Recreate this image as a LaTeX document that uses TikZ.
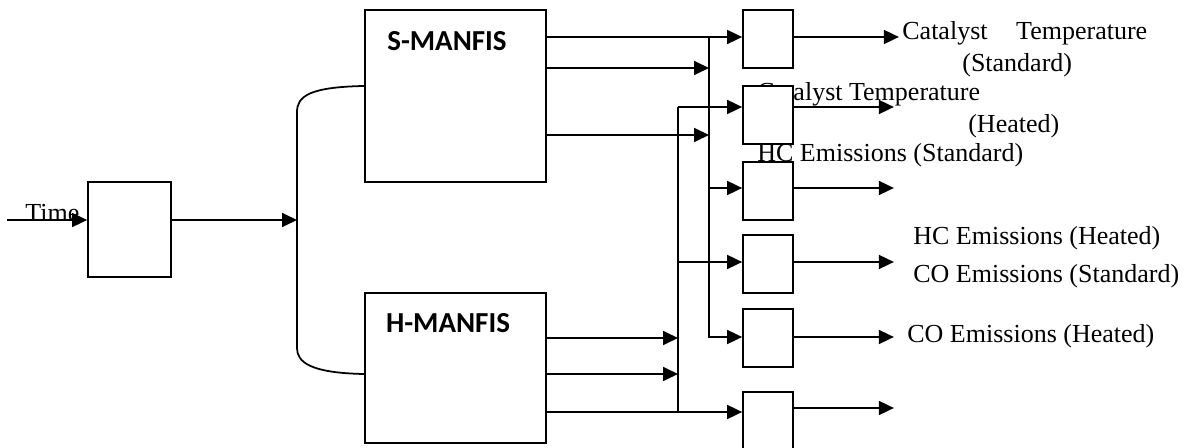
\documentclass[tikz,border=0pt]{standalone}
\usepackage{fontspec}
\setmainfont{Liberation Serif}
\newfontfamily\calfont{Carlito}
\usetikzlibrary{arrows.meta}
\tikzset{
blockbox/.style={draw, line width=1pt, fill=white, inner sep=0pt},
manfisbox/.style={draw, line width=1pt, inner sep=0pt, minimum width=3.62cm},
sigarrow/.style={-{Triangle[length=3mm,width=2.8mm]}, line width=1pt},
sigline/.style={line width=1pt},
outlabel/.style={font=\fontsize{14.8}{18.5}\selectfont, inner sep=0pt, anchor=base west, align=left},
manlabel/.style={font=\calfont\bfseries\fontsize{16.5}{19}\selectfont, inner sep=0pt}
}
\begin{document}
\begin{tikzpicture}[x=0.02cm,y=-0.02cm]
\useasboundingbox (0,0) rectangle (1189,448);

% output labels (base = last line)
\node[outlabel] (lcts) at (902,72) {Catalyst\hspace{1.1em}Temperature\\\hspace*{1.2cm}(Standard)};
\node[outlabel] (lcth) at (757,133) {Catalyst Temperature\\\hspace*{4.22cm}(Heated)};
\node[outlabel] (lhcs) at (757,162) {HC Emissions (Standard)};
\node[outlabel] (lhch) at (913,245) {HC Emissions (Heated)};
\node[outlabel] (lcos) at (913,283) {CO Emissions (Standard)};
\node[outlabel] (lcoh) at (907,343) {CO Emissions (Heated)};
\node[outlabel] (ltime) at (25,222) {Time};

% blocks
\node[blockbox, minimum width=1.66cm, minimum height=1.9cm] (pre) at (129.5,229.5) {};
\node[manfisbox, minimum height=3.44cm] (sman) at (455.5,96) {};
\node[manfisbox, minimum height=3cm] (hman) at (455.5,368) {};
\node[manlabel] (slabel) at (447,41) {S-MANFIS};
\node[manlabel] (hlabel) at (448,323) {H-MANFIS};
\foreach \nm/\yc in {ca/39, cb/115, cc/191, cd/264, ce/338, cf/421}
  \node[blockbox, minimum width=1cm, minimum height=1.16cm] (\nm) at (768,\yc) {};

\coordinate (tin) at (7,220);
\coordinate (join) at (297,220);
\coordinate (busa) at (709,37);
\coordinate (busb) at (678,107);

% input side
\draw[sigarrow] (tin) -- (tin -| pre.west);
\draw[sigarrow] (pre.east |- tin) -- (join);
\draw[sigline] (sman.west |- 0,86) .. controls (310,87) and (297,96) .. (297,112)
  -- (297,348) .. controls (297,362) and (310,373) .. (hman.west |- 0,374);

% S-MANFIS outputs
\draw[sigline] (sman.east |- busa) -- (busa);
\draw[sigarrow] (busa) -- (ca.west |- busa);
\draw[sigarrow] (sman.east |- 0,68) -- (busa |- 0,68);
\draw[sigarrow] (sman.east |- 0,135) -- (busa |- 0,135);
\draw[sigarrow] (busa) -- (busa |- 0,337) -- (ce.west |- 0,337);
\draw[sigarrow] (busa |- 0,188) -- (cc.west |- 0,188);

% H-MANFIS outputs
\draw[sigarrow] (hman.east |- 0,338) -- (busb |- 0,338);
\draw[sigarrow] (hman.east |- 0,374) -- (busb |- 0,374);
\draw[sigarrow] (hman.east |- 0,412) -- (cf.west |- 0,412);
\draw[sigline] (busb |- 0,412) -- (busb);
\draw[sigarrow] (busb) -- (cb.west |- busb);
\draw[sigarrow] (busb |- 0,262) -- (cd.west |- 0,262);

% final outputs
\draw[sigarrow] (ca.east |- busa) -- ++(105,0);
\draw[sigarrow] (cb.east |- busb) -- ++(100,0);
\draw[sigarrow] (cc.east |- 0,188) -- ++(100,0);
\draw[sigarrow] (cd.east |- 0,262) -- ++(100,0);
\draw[sigarrow] (ce.east |- 0,337) -- ++(100,0);
\draw[sigarrow] (cf.east |- 0,408) -- ++(100,0);
\end{tikzpicture}
\end{document}
